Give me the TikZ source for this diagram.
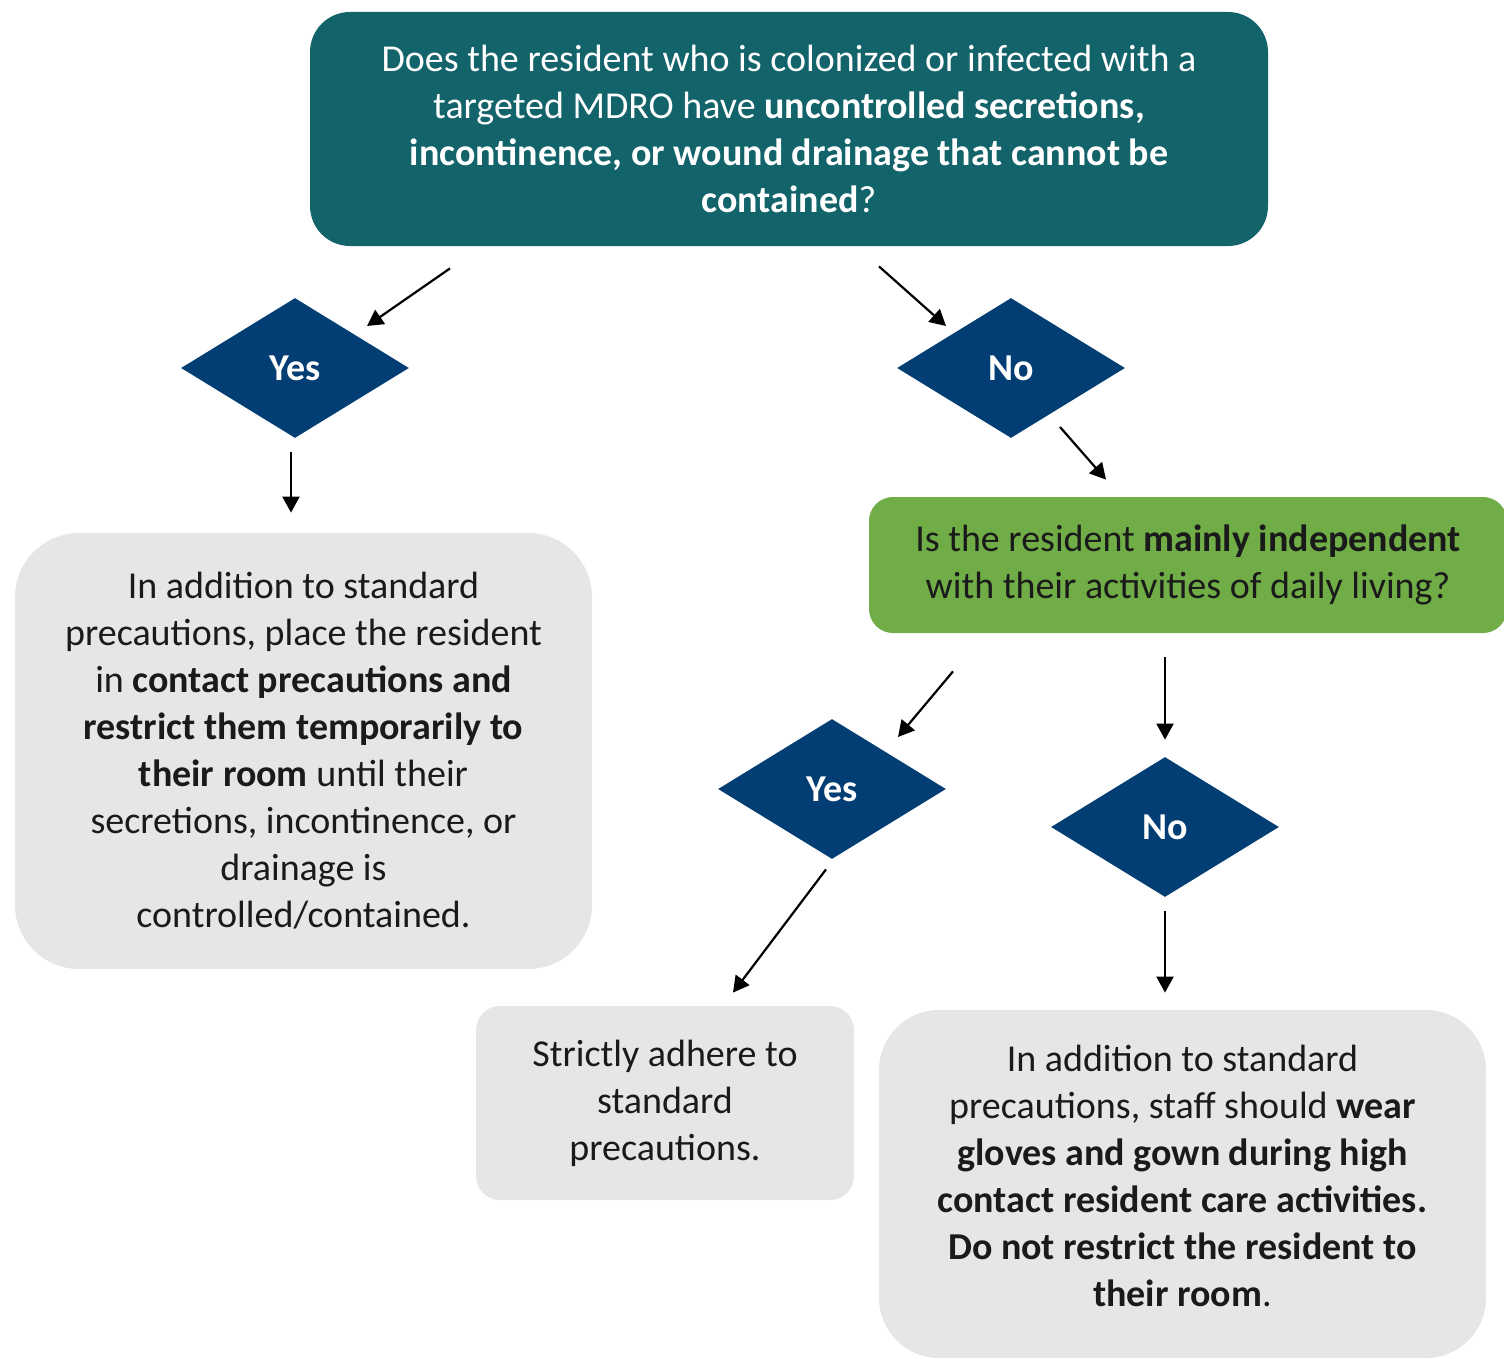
\documentclass[tikz,border=0pt]{standalone}
\usepackage{fontspec}
\setmainfont{Carlito}
\usepackage{tikz}
\usetikzlibrary{positioning}
\usetikzlibrary{shapes.geometric}
\usetikzlibrary{arrows.meta}

\definecolor{tealbox}{HTML}{13636B}
\definecolor{navydia}{HTML}{023D73}
\definecolor{greenbox}{HTML}{70AD47}
\definecolor{greybox}{HTML}{E6E6E6}
\definecolor{darktext}{HTML}{1A1A1A}

\tikzset{
  question/.style={align=center,rounded corners=20pt,inner sep=0pt,font=\fontsize{19}{23.5}\selectfont},
  answer/.style={shape=diamond,fill=navydia,text=white,inner sep=0pt,minimum width=114pt,minimum height=70pt,font=\fontsize{19}{23.5}\selectfont\bfseries},
  action/.style={align=center,fill=greybox,text=darktext,inner sep=0pt,font=\fontsize{19}{23.5}\selectfont},
  flow/.style={-{Triangle[length=8pt,width=8.5pt]},line width=1.1pt,black}
}

\begin{document}
\begin{tikzpicture}[x=0.5pt,y=-0.5pt]
  \useasboundingbox (0,0) rectangle (1504,1359);

  \node at (789,129) [question,fill=tealbox,text=white,minimum width=479pt,minimum height=117pt] (mdro) {
    Does the resident who is colonized or infected with a\\
    targeted MDRO have \textbf{uncontrolled secretions,}\\
    \textbf{incontinence, or wound drainage that cannot be}\\
    \textbf{contained}?
  };

  \node at (295,368) [answer] (yesone) {Yes};
  \node at (1011,368) [answer] (noone) {No};

  \node at (1188,565) [question,fill=greenbox,text=darktext,rounded corners=12pt,minimum width=319pt,minimum height=68pt] (indep) {
    Is the resident \textbf{mainly independent}\\
    with their activities of daily living?
  };

  \node at (832,789) [answer] (yestwo) {Yes};
  \node at (1165,827) [answer] (notwo) {No};

  \node at (303.5,751) [action,rounded corners=32pt,minimum width=288.5pt,minimum height=218pt] (contact) {
    In addition to standard\\
    precautions, place the resident\\
    in \textbf{contact precautions and}\\
    \textbf{restrict them temporarily to}\\
    \textbf{their room} until their\\
    secretions, incontinence, or\\
    drainage is\\
    controlled/contained.
  };

  \node at (665,1103) [action,rounded corners=12pt,minimum width=189pt,minimum height=97pt] (standard) {
    Strictly adhere to\\
    standard\\
    precautions.
  };

  \node at (1182.5,1184) [action,rounded corners=30pt,minimum width=303.5pt,minimum height=174pt] (gloves) {};
  \node at (1182.5,1176) [action,fill=none] (glovestext) {
    In addition to standard\\
    precautions, staff should \textbf{wear}\\
    \textbf{gloves and gown during high}\\
    \textbf{contact resident care activities.}\\
    \textbf{Do not restrict the resident to}\\
    \textbf{their room}.
  };

  \draw[flow] ([shift={(-339,22)}]mdro.south) -- ([shift={(72,-42)}]yesone.center);
  \draw[flow] ([shift={(90,20)}]mdro.south) -- ([shift={(-65,-42)}]noone.center);

  \draw[flow] ([shift={(-4,14)}]yesone.south) -- ([shift={(-12.5,-20)}]contact.north);
  \draw[flow] ([shift={(49,59)}]noone.center) -- ([shift={(-82,-17)}]indep.north);

  \draw[flow] ([shift={(-235,38)}]indep.south) -- ([shift={(66,-52)}]yestwo.center);
  \draw[flow] ([shift={(-23,24)}]indep.south) -- ([shift={(0,-17)}]notwo.north);

  \draw[flow] ([shift={(-6,10)}]yestwo.south) -- ([shift={(68,-13)}]standard.north);
  \draw[flow] ([shift={(0,14)}]notwo.south) -- ([shift={(-17.5,-17)}]gloves.north);
\end{tikzpicture}
\end{document}
